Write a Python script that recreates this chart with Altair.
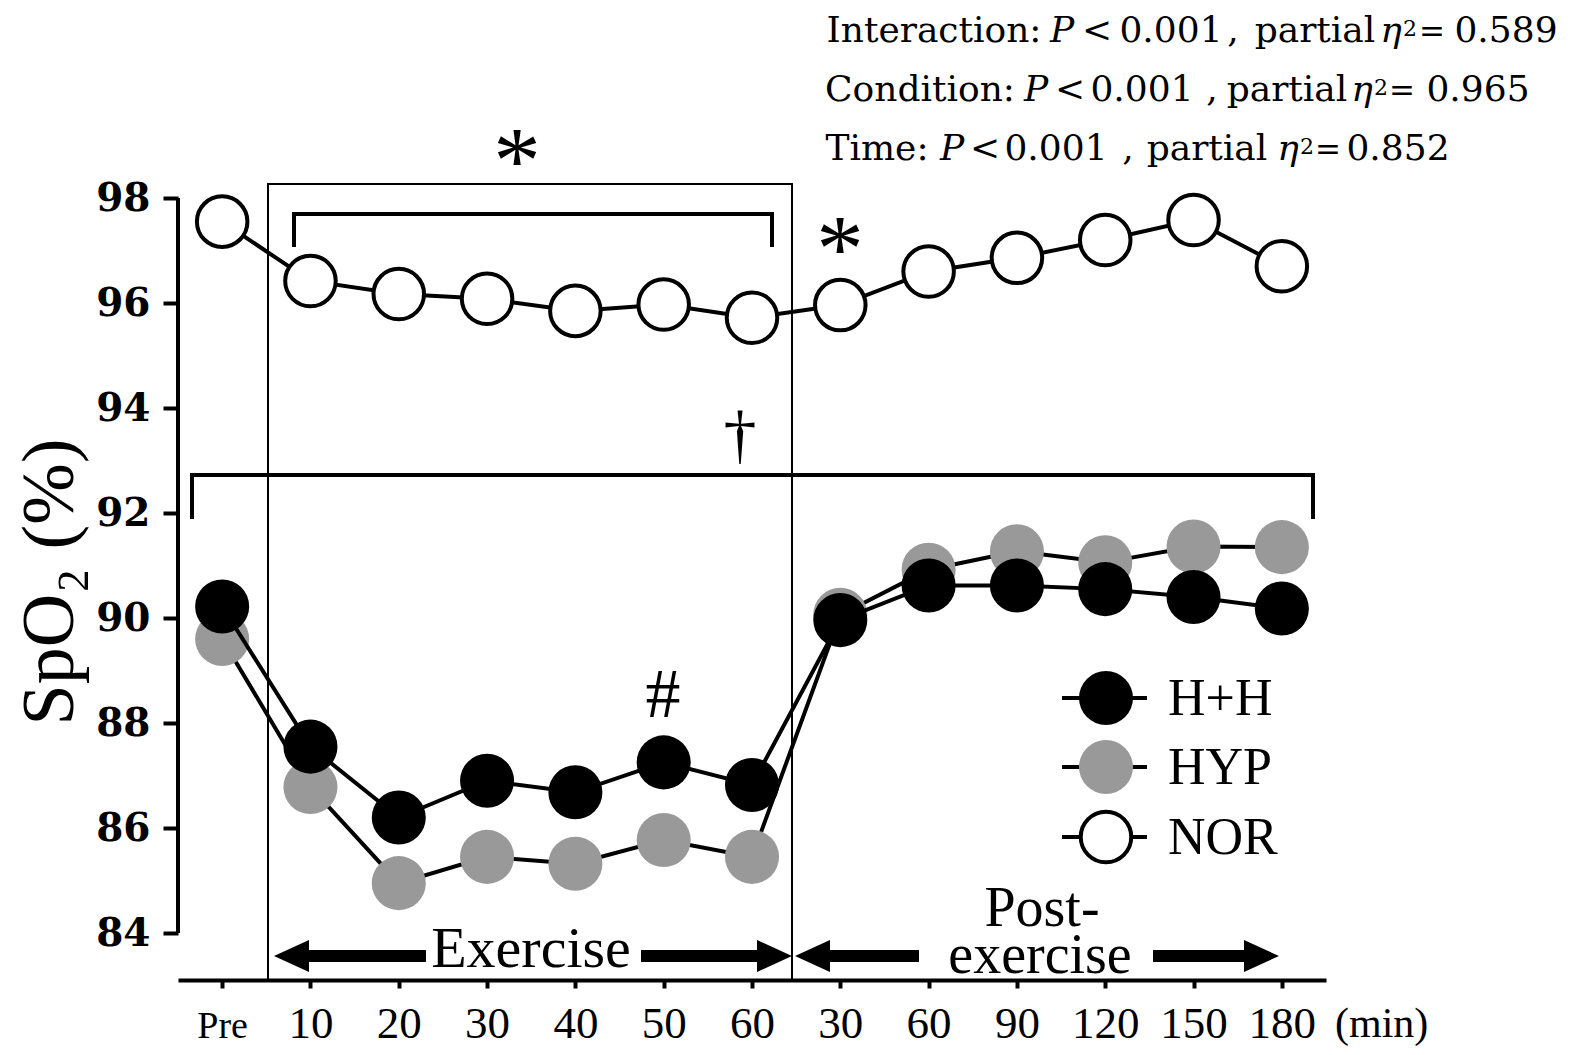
import altair as alt
import pandas as pd

# ---------------- data ----------------
x_labels = ["Pre", "10", "20", "30", "40", "50", "60", "30", "60", "90", "120", "150", "180"]
series_names = ["H+H", "HYP", "NOR"]
hh_values = [90.22, 87.55, 86.20, 86.90, 86.68, 87.25, 86.82, 89.96, 90.62, 90.62, 90.55, 90.40, 90.18]
hyp_values = [89.60, 86.78, 84.95, 85.45, 85.32, 85.77, 85.45, 90.06, 90.92, 91.27, 91.06, 91.36, 91.35]
nor_values = [97.55, 96.42, 96.17, 96.08, 95.85, 95.97, 95.72, 95.96, 96.60, 96.86, 97.20, 97.58, 96.70]
y_ticks = [84, 86, 88, 90, 92, 94, 96, 98]

stat_lines = [
    ("Interaction:", "0.589"),
    ("Condition:", "0.965"),
    ("Time:", "0.852"),
]

# ---------------- layout ----------------
W, H = 1148, 782
OX, OY = 178, 198          # plot origin on the page
PAD_L, PAD_T = OX - 8, OY - 8

xs = alt.Scale(domain=[-0.5, 12.5], nice=False, zero=False)
ys = alt.Scale(domain=[98 - H / 52.5, 98], nice=False, zero=False)

label_arr = "[" + ",".join("'%s'" % s for s in x_labels) + "]"
xaxis = alt.Axis(
    values=list(range(len(x_labels))),
    labelExpr=label_arr + "[datum.value]",
    title=None, grid=False, domain=True, domainColor="black", domainWidth=4,
    ticks=True, tickColor="black", tickWidth=4, tickSize=8,
    labelFont="Liberation Serif",
    labelFontSize={"condition": {"test": "datum.value == 0", "value": 38}, "value": 45},
    labelColor="black", labelBaseline="alphabetic", labelPadding=49,
    labelOverlap=False, labelFlush=False, labelBound=False,
)
yaxis = alt.Axis(
    values=y_ticks, title=None, grid=False, domain=False,
    ticks=True, tickColor="black", tickWidth=4, tickSize=15,
    labelFont="DejaVu Serif", labelFontSize=39, labelFontWeight="bold", labelColor="black",
    labelPadding=13, labelBaseline="middle", labelOverlap=False,
)

styles = {
    "HYP": dict(fill="#999999", stroke=None, sw=0, size=2922),
    "H+H": dict(fill="black", stroke=None, sw=0, size=2922),
    "NOR": dict(fill="white", stroke="black", sw=4, size=2552),
}
series_vals = {"H+H": hh_values, "HYP": hyp_values, "NOR": nor_values}

layers = []

# y axis line (84..98)
ydf = pd.DataFrame({"lo": [min(y_ticks)], "hi": [max(y_ticks)]})
layers.append(
    alt.Chart(ydf).mark_rule(color="black", strokeWidth=4).encode(
        x=alt.value(0),
        y=alt.Y("lo:Q", scale=ys, axis=yaxis),
        y2="hi:Q",
    )
)

# data series
for name in ["HYP", "H+H", "NOR"]:
    df = pd.DataFrame({"idx": list(range(len(x_labels))), "v": series_vals[name]})
    st = styles[name]
    enc = dict(
        x=alt.X("idx:Q", scale=xs, axis=xaxis),
        y=alt.Y("v:Q", scale=ys, axis=yaxis),
    )
    layers.append(alt.Chart(df).mark_line(color="black", strokeWidth=4).encode(**enc))
    pkw = dict(fill=st["fill"], opacity=1, size=st["size"], fillOpacity=1)
    if st["stroke"]:
        pkw.update(stroke=st["stroke"], strokeWidth=st["sw"])
    layers.append(alt.Chart(df).mark_circle(**pkw).encode(**enc))

# ---------------- annotations (pixel positions) ----------------
def px(v):
    return v - OX

def py(v):
    return v - OY

one = pd.DataFrame({"a": [0]})

def rule(x1, y1, x2=None, y2=None, w=4, cap="square"):
    enc = dict(x=alt.value(px(x1)), y=alt.value(py(y1)))
    if x2 is not None:
        enc["x2"] = alt.value(px(x2))
    if y2 is not None:
        enc["y2"] = alt.value(py(y2))
    return alt.Chart(one).mark_rule(color="black", strokeWidth=w, strokeCap=cap).encode(**enc)

# exercise box
layers.append(
    alt.Chart(one).mark_rect(fillOpacity=0, stroke="black", strokeWidth=2).encode(
        x=alt.value(px(268)), x2=alt.value(px(792)),
        y=alt.value(py(184)), y2=alt.value(py(980)),
    )
)
# top bracket
layers += [rule(294, 214, x2=772), rule(294, 214, y2=245), rule(772, 214, y2=245)]
# big bracket
layers += [rule(192, 475, x2=1313), rule(192, 475, y2=517), rule(1313, 475, y2=517)]

# arrows
layers += [
    rule(291, 956, x2=426, w=12, cap="butt"),
    rule(641, 956, x2=775, w=12, cap="butt"),
    rule(812, 956, x2=919, w=12, cap="butt"),
    rule(1153, 956, x2=1262, w=12, cap="butt"),
]
RIGHT = "M1,0L-1,-0.914L-1,0.914Z"
LEFT = "M-1,0L1,-0.914L1,0.914Z"
for cx, shp in [(291.5, LEFT), (774.5, RIGHT), (812.5, LEFT), (1261.5, RIGHT)]:
    layers.append(
        alt.Chart(one).mark_point(shape=shp, filled=True, fill="black", opacity=1, size=1225, strokeWidth=0).encode(
            x=alt.value(px(cx)), y=alt.value(py(956))
        )
    )

def text(t, x, y, size, font="Liberation Serif", align="center", style="normal", angle=0, baseline="alphabetic"):
    kw = dict(text=t, font=font, fontSize=size, align=align, baseline=baseline, color="black", fontStyle=style)
    if angle:
        kw["angle"] = angle
    return alt.Chart(one).mark_text(**kw).encode(x=alt.value(px(x)), y=alt.value(py(y)))

layers += [
    text("Exercise", 531, 967, 58),
    text("Post-", 1042, 926, 56),
    text("exercise", 1040, 973, 56),
    text("(min)", 1335, 1037, 42, align="left"),
    text("SpO\u2082 (%)", 73, 582, 74, angle=270),
    text("*", 517, 193, 95),
    text("*", 840, 281, 95),
    text("\u2020", 740, 456, 66),
    text("#", 663, 717, 70),
]

# statistics text (top right)
stat_centers = [
    dict(lab=934, P=1062, lt=1097, n=1171, c=1233, part=1315, eta=1391, sup=1410, eq=1432, val=1506, base=42),
    dict(lab=920, P=1036, lt=1070, n=1142, c=1212, part=1287, eta=1362, sup=1381, eq=1402, val=1478, base=101),
    dict(lab=877, P=952, lt=985, n=1056, c=1128, part=1207, eta=1288, sup=1307, eq=1328, val=1398, base=160),
]
for (lab, val), c in zip(stat_lines, stat_centers):
    b = c["base"]
    layers += [
        text(lab, c["lab"], b, 36, font="DejaVu Serif"),
        text("P", c["P"], b, 36, font="DejaVu Serif", style="italic"),
        text("<", c["lt"], b, 36, font="DejaVu Serif"),
        text("0.001", c["n"], b, 36, font="DejaVu Serif"),
        text(",", c["c"], b, 36, font="DejaVu Serif"),
        text("partial", c["part"], b, 36, font="DejaVu Serif"),
        text("\u03b7", c["eta"], b, 36, font="DejaVu Serif", style="italic"),
        text("2", c["sup"], b - 6, 22, font="DejaVu Serif"),
        text("=", c["eq"], b, 31, font="DejaVu Serif"),
        text(val, c["val"], b, 36, font="DejaVu Serif"),
    ]

# legend
leg_y = [698, 767, 837]
for name, cy in zip(series_names, leg_y):
    st = styles[name]
    layers.append(rule(1062, cy, x2=1147, w=4, cap="butt"))
    pkw = dict(fill=st["fill"], opacity=1, size=st["size"], fillOpacity=1)
    if st["stroke"]:
        pkw.update(stroke=st["stroke"], strokeWidth=st["sw"])
    layers.append(alt.Chart(one).mark_circle(**pkw).encode(x=alt.value(px(1106)), y=alt.value(py(cy))))
    layers.append(text(name, 1168, cy + 17, 52, align="left"))

chart = alt.layer(*layers).properties(
    width=W, height=H,
    autosize=alt.AutoSizeParams(type="none"),
    padding={"left": PAD_L, "top": PAD_T, "right": 1555 - PAD_L - W, "bottom": 67},
    background="white",
).configure_view(stroke=None)

chart.save("out.html", embed_options={"renderer": "svg", "actions": False})
